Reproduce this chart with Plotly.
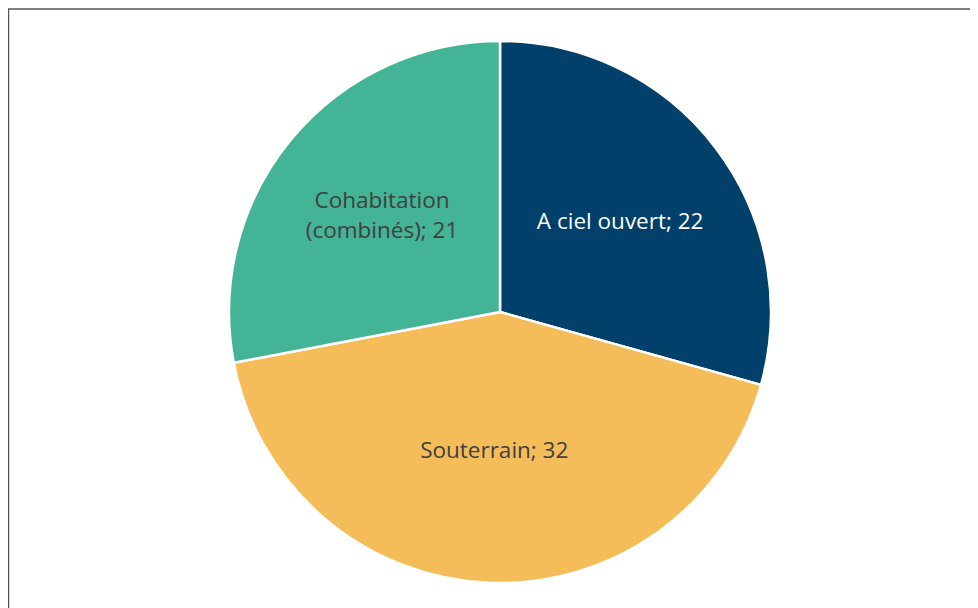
import plotly.graph_objects as go

# mine types and counts
labels = ["A ciel ouvert", "Souterrain", "Cohabitation<br>(combinés)"]
values = [22, 32, 21]
colors = ["#00406b", "#f4bd5a", "#43b496"]
text_colors = ["#ffffff", "#404040", "#404040"]

fig = go.Figure(
    data=[
        go.Pie(
            labels=labels,
            values=values,
            sort=False,
            direction="clockwise",
            rotation=0,
            marker=dict(colors=colors, line=dict(color="#ffffff", width=2.5)),
            texttemplate="%{label}; %{value}",
            textinfo="label+value",
            textposition="inside",
            insidetextorientation="horizontal",
            insidetextfont=dict(family="Open Sans", size=22.5, color=text_colors),
            hoverinfo="label+value",
            showlegend=False,
        )
    ]
)

fig.update_layout(
    width=978,
    height=608,
    margin=dict(l=6, r=0, t=33, b=33),
    paper_bgcolor="#ffffff",
    plot_bgcolor="#ffffff",
    font=dict(family="Open Sans", color="#404040"),
    shapes=[
        dict(
            type="rect",
            xref="paper",
            yref="paper",
            x0=-5.5 / 972,
            x1=1.05,
            y0=-0.1,
            y1=1 + 32 / 542,
            line=dict(color="#555555", width=1.5),
            fillcolor="rgba(0,0,0,0)",
        )
    ],
)

fig.write_html("out.html")
